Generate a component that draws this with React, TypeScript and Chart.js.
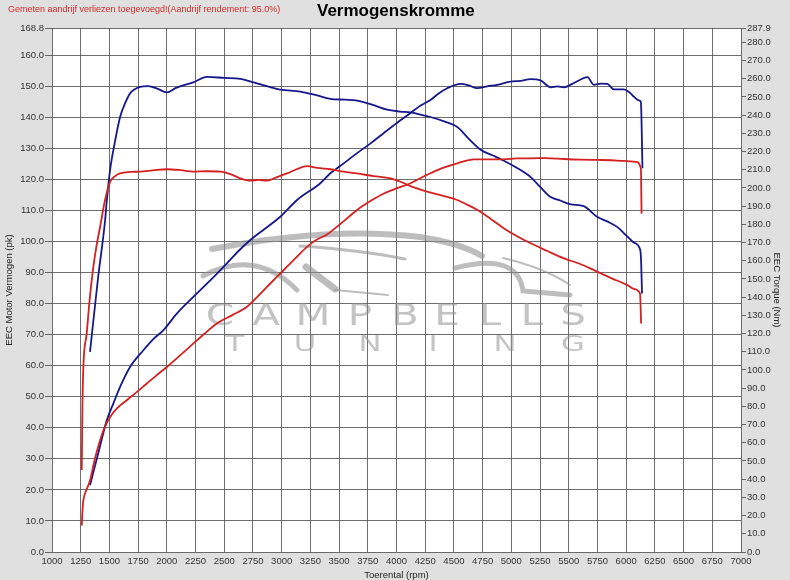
import React, { useEffect, useRef } from "react";
import { Chart, registerables } from "chart.js";

Chart.register(...registerables);

// axis ticks
const rpmTicks = [1000, 1250, 1500, 1750, 2000, 2250, 2500, 2750, 3000, 3250, 3500, 3750, 4000, 4250, 4500, 4750, 5000, 5250, 5500, 5750, 6000, 6250, 6500, 6750, 7000];
const powerTicks = [0, 10, 20, 30, 40, 50, 60, 70, 80, 90, 100, 110, 120, 130, 140, 150, 160, 168.8];
const torqueTicks = [0, 10, 20, 30, 40, 50, 60, 70, 80, 90, 100, 110, 120, 130, 140, 150, 160, 170, 180, 190, 200, 210, 220, 230, 240, 250, 260, 270, 280, 287.9];

// blue run
const blueTorqueRpm = [1331, 1400, 1462, 1477, 1506, 1550, 1593, 1640, 1680, 1767, 1837, 1920, 2000, 2080, 2230, 2350, 2500, 2640, 2755, 2870, 2990, 3163, 3300, 3424, 3550, 3657, 3800, 3918, 4030, 4122, 4200, 4296, 4420, 4529, 4630, 4732, 4835, 4935, 5050, 5168, 5260, 5343, 5430, 5517, 5630, 5750, 5840, 5924, 6000, 6067, 6122, 6130, 6138];
const blueTorqueNm = [110, 150, 182, 193, 210, 226, 239, 247, 252, 255.5, 256, 254.5, 252.5, 255, 258, 261, 260.5, 260, 258, 256, 254, 253, 251, 249, 248.5, 248, 245.5, 243, 242, 241.5, 240.5, 239, 236.5, 233.5, 227, 221, 218, 215, 211, 206, 200, 195, 193, 191, 190, 184, 181.5, 178.5, 174, 170, 166, 160, 142];
const bluePowerRpm = [1331, 1404, 1477, 1535, 1593, 1680, 1796, 1880, 1971, 2087, 2262, 2400, 2523, 2620, 2727, 2860, 2988, 3134, 3337, 3424, 3512, 3657, 3780, 3890, 4006, 4122, 4210, 4296, 4370, 4442, 4558, 4630, 4703, 4790, 4877, 4993, 5080, 5168, 5255, 5343, 5400, 5459, 5530, 5587, 5663, 5718, 5780, 5837, 5892, 5980, 6030, 6067, 6110, 6128, 6142];
const bluePowerPk = [21.5, 32, 42.4, 47.9, 53.2, 59.6, 65, 68.5, 71.5, 76.8, 83.3, 88.3, 93, 96.8, 100.5, 104.3, 108, 113.4, 118.8, 122, 124.4, 128.5, 131.8, 135, 138.3, 141.4, 143.8, 145.6, 147.8, 149.4, 150.8, 150.3, 149.4, 150, 150.5, 151.5, 151.8, 152.3, 151.9, 149.7, 150, 149.7, 150.8, 151.9, 153, 150.5, 150.9, 150.8, 149, 149, 148, 146.7, 145.5, 145, 123.6];

// red run
const redTorqueRpm = [1259, 1265, 1273, 1302, 1330, 1360, 1390, 1419, 1462, 1506, 1550, 1593, 1680, 1767, 1880, 2000, 2120, 2232, 2350, 2465, 2560, 2640, 2727, 2800, 2872, 2960, 3047, 3130, 3221, 3310, 3424, 3540, 3657, 3800, 3948, 4040, 4122, 4267, 4400, 4529, 4620, 4703, 4820, 4936, 5050, 5168, 5310, 5459, 5590, 5720, 5870, 6011, 6070, 6121, 6130];
const redTorqueNm = [45, 80, 101.7, 120, 140, 156.7, 169, 178.7, 193.4, 203.4, 206.5, 208, 208.8, 209, 209.7, 210.3, 209.8, 209, 209.2, 209, 207.5, 205.3, 204, 204.5, 204, 206, 208, 210.3, 212, 211, 210.3, 209, 208, 206.5, 205.3, 203.3, 201, 198, 195.8, 193.4, 190.7, 188, 183, 177.8, 173.5, 169.6, 165.5, 161.3, 158.5, 154.9, 150.5, 146.6, 144.5, 142, 125.5];
const redPowerRpm = [1259, 1265, 1273, 1300, 1331, 1370, 1419, 1460, 1506, 1570, 1651, 1740, 1826, 1910, 2000, 2120, 2232, 2330, 2436, 2570, 2698, 2790, 2872, 2960, 3047, 3130, 3221, 3300, 3395, 3512, 3657, 3780, 3890, 4006, 4122, 4210, 4296, 4410, 4529, 4674, 4800, 4936, 5050, 5168, 5300, 5459, 5600, 5750, 5870, 5982, 6084, 6128, 6134];
const redPowerPk = [8.5, 13, 16.6, 20, 23, 29.5, 36, 40.3, 43.5, 46.4, 48.9, 51.6, 54.3, 56.9, 59.6, 63.5, 67.2, 70.4, 73.6, 76.3, 79, 82.3, 85.4, 88.7, 91.9, 95, 98.3, 100.5, 102.3, 105.7, 110.2, 113.2, 115.5, 117.2, 118.8, 120.5, 122, 123.8, 125.2, 126.5, 126.5, 126.5, 126.8, 126.8, 126.9, 126.6, 126.4, 126.3, 126.2, 126, 125.7, 123.6, 109];

const BLUE = "#15178a";
const RED = "#d42020";
const FONT = "'Liberation Sans', Arial, sans-serif";
const GRID = "rgba(85,85,85,0.85)";

const toPoints = (xs: number[], ys: number[]) => xs.map((x, i) => ({ x, y: ys[i] }));
const fixTicks = (values: number[]) => (axis: any) => {
  axis.ticks = values.map((value) => ({ value }));
};

// grey page, white plot area
const backgroundPlugin = {
  id: "dynoBackground",
  beforeDraw(chart: any) {
    const { ctx, chartArea: a, width, height } = chart;
    ctx.save();
    ctx.fillStyle = "#e0e0e0";
    ctx.fillRect(0, 0, width, height);
    ctx.fillStyle = "#ffffff";
    ctx.fillRect(a.left, a.top, a.right - a.left, a.bottom - a.top);
    ctx.restore();
  },
};

// "Campbells Tuning" watermark behind the curves
const logoTop = "CAMPBELLS".split("");
const logoTopX = [220, 266, 313, 360, 405, 447, 490, 532, 573];
const logoBottom = "TUNING".split("");
const logoBottomX = [235, 305, 370, 433, 505, 573];

const watermarkPlugin = {
  id: "watermark",
  beforeDatasetsDraw(chart: any) {
    const { ctx } = chart;
    ctx.save();
    ctx.fillStyle = "rgba(145,145,145,0.55)";
    ctx.strokeStyle = "rgba(145,145,145,0.6)";
    ctx.lineCap = "round";

    // car outline
    ctx.lineWidth = 6;
    ctx.beginPath();
    ctx.moveTo(212, 249);
    ctx.quadraticCurveTo(330, 226, 420, 237);
    ctx.quadraticCurveTo(460, 243, 482, 256);
    ctx.stroke();
    ctx.lineWidth = 3;
    ctx.beginPath();
    ctx.moveTo(300, 246);
    ctx.quadraticCurveTo(360, 250, 405, 259);
    ctx.stroke();
    ctx.lineWidth = 5;
    ctx.beginPath();
    ctx.moveTo(203, 276);
    ctx.quadraticCurveTo(255, 248, 297, 290);
    ctx.stroke();
    ctx.lineWidth = 7;
    ctx.beginPath();
    ctx.moveTo(306, 267);
    ctx.lineTo(335, 289);
    ctx.stroke();
    ctx.lineWidth = 2;
    ctx.beginPath();
    ctx.moveTo(335, 290);
    ctx.lineTo(388, 295);
    ctx.stroke();
    ctx.lineWidth = 5;
    ctx.beginPath();
    ctx.moveTo(455, 268);
    ctx.quadraticCurveTo(518, 252, 523, 291);
    ctx.lineTo(570, 295);
    ctx.stroke();
    ctx.lineWidth = 2;
    ctx.beginPath();
    ctx.moveTo(503, 258);
    ctx.quadraticCurveTo(545, 268, 570, 285);
    ctx.stroke();

    ctx.textAlign = "center";
    ctx.textBaseline = "alphabetic";
    ctx.font = "normal 400 30px 'DejaVu Sans', sans-serif";
    logoTop.forEach((ch, i) => {
      ctx.save();
      ctx.translate(logoTopX[i], 325);
      ctx.scale(1.35, 1);
      ctx.fillText(ch, 0, 0);
      ctx.restore();
    });
    ctx.font = "normal 400 22px 'DejaVu Sans', sans-serif";
    logoBottom.forEach((ch, i) => {
      ctx.save();
      ctx.translate(logoBottomX[i], 351);
      ctx.scale(1.4, 1);
      ctx.fillText(ch, 0, 0);
      ctx.restore();
    });
    ctx.restore();
  },
};

function DynoChart() {
  const canvasRef = useRef<HTMLCanvasElement | null>(null);
  const chartRef = useRef<Chart | null>(null);

  useEffect(() => {
    if (!canvasRef.current) return;
    const ctx = canvasRef.current.getContext("2d");
    if (!ctx) return;
    if (chartRef.current) chartRef.current.destroy();

    const line = (data: any[], color: string, axis: string) => ({
      data,
      yAxisID: axis,
      borderColor: color,
      borderWidth: 1.8,
      pointRadius: 0,
      cubicInterpolationMode: "monotone" as const,
      fill: false,
    });

    chartRef.current = new Chart(ctx, {
      type: "line",
      data: {
        datasets: [
          line(toPoints(redPowerRpm, redPowerPk), RED, "y"),
          line(toPoints(redTorqueRpm, redTorqueNm), RED, "y1"),
          line(toPoints(bluePowerRpm, bluePowerPk), BLUE, "y"),
          line(toPoints(blueTorqueRpm, blueTorqueNm), BLUE, "y1"),
        ],
      },
      options: {
        animation: false,
        responsive: true,
        maintainAspectRatio: false,
        layout: { padding: { top: 28 } },
        plugins: {
          legend: { display: false },
          tooltip: { enabled: false },
          title: { display: false },
        },
        scales: {
          x: {
            type: "linear",
            min: 1000,
            max: 7000,
            afterBuildTicks: fixTicks(rpmTicks),
            afterFit: (s: any) => {
              s.height = 28;
            },
            ticks: {
              color: "#333",
              font: { family: FONT, size: 9.5 },
              padding: 4,
              maxRotation: 0,
              autoSkip: false,
              callback: (v: any) => String(v),
            },
            grid: { color: GRID, drawTicks: false },
            border: { display: false },
            title: {
              display: true,
              text: "Toerental (rpm)",
              color: "#222",
              font: { family: FONT, size: 9.5, lineHeight: 1 },
              padding: { top: 0, bottom: 0 },
            },
          },
          y: {
            type: "linear",
            position: "left",
            min: 0,
            max: 168.8,
            afterBuildTicks: fixTicks(powerTicks),
            afterFit: (s: any) => {
              s.width = 52;
            },
            ticks: {
              color: "#333",
              font: { family: FONT, size: 9.5 },
              padding: 1,
              autoSkip: false,
              callback: (v: any) => Number(v).toFixed(1),
            },
            grid: { color: GRID, tickLength: 7, tickColor: "#666" },
            border: { display: false },
            title: {
              display: true,
              text: "EEC Motor Vermogen (pk)",
              color: "#222",
              font: { family: FONT, size: 9.5, lineHeight: 1.2 },
              padding: { top: 4, bottom: 0 },
            },
          },
          y1: {
            type: "linear",
            position: "right",
            min: 0,
            max: 287.9,
            afterBuildTicks: fixTicks(torqueTicks),
            afterFit: (s: any) => {
              s.width = 49;
            },
            ticks: {
              color: "#333",
              font: { family: FONT, size: 9.5 },
              padding: 1,
              autoSkip: false,
              callback: (v: any) => Number(v).toFixed(1),
            },
            grid: { drawOnChartArea: false, tickLength: 5, tickColor: "#666" },
            border: { display: false },
            title: {
              display: true,
              text: "EEC Torque (Nm)",
              color: "#222",
              font: { family: FONT, size: 9.5, lineHeight: 1.2 },
              padding: { top: 8, bottom: 0 },
            },
          },
        },
      },
      plugins: [backgroundPlugin, watermarkPlugin],
    });

    return () => {
      if (chartRef.current) {
        chartRef.current.destroy();
        chartRef.current = null;
      }
    };
  }, []);

  return <canvas ref={canvasRef} />;
}

export default function App() {
  return (
    <div style={{ position: "absolute", left: 0, top: 0, width: 790, height: 580, background: "#e0e0e0", overflow: "hidden" }}>
      <DynoChart />
      <div
        style={{
          position: "absolute",
          left: 8,
          top: 5,
          fontFamily: FONT,
          fontSize: 9,
          lineHeight: "9px",
          color: "#d42a2a",
          whiteSpace: "nowrap",
        }}
      >
        Gemeten aandrijf verliezen toegevoegd!(Aandrijf rendement: 95.0%)
      </div>
      <div
        style={{
          position: "absolute",
          left: 317,
          top: 2,
          fontFamily: FONT,
          fontSize: 17,
          fontWeight: "bold",
          lineHeight: "17px",
          color: "#000",
          whiteSpace: "nowrap",
        }}
      >
        Vermogenskromme
      </div>
    </div>
  );
}
